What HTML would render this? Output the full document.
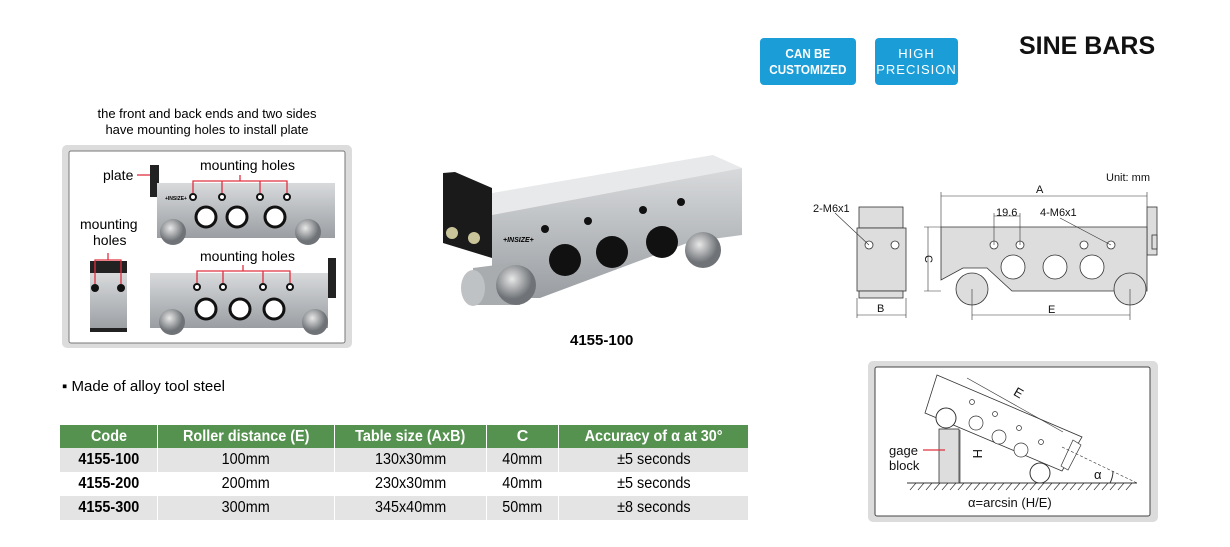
<!DOCTYPE html>
<html><head><meta charset="utf-8"><style>
body{margin:0;width:1230px;height:547px;background:#fff;font-family:"Liberation Sans",Arial,sans-serif;position:relative;overflow:hidden}
.a{position:absolute}
.badge{position:absolute;background:#1b9ed8;color:#fff;border-radius:4px;text-align:center;font-weight:bold;font-size:13px;line-height:16px}
table{position:absolute;left:60px;top:425px;border-collapse:collapse;font-size:16px}
td,th{padding:0;text-align:center;height:24px}
th{background:#55914f;color:#fff;font-weight:bold;height:23px}
tr.g td{background:#e4e4e4}
td+td,th+th{border-left:1px solid #fff}
.n{display:inline-block;transform:scaleX(.9)}
</style></head><body>
<div class="badge" style="left:760px;top:38px;width:96px;height:47px;padding-top:8px;box-sizing:border-box"><span class="n">CAN BE<br>CUSTOMIZED</span></div>
<div class="badge" style="left:875px;top:38px;width:83px;height:47px;padding-top:8px;box-sizing:border-box;font-weight:normal;letter-spacing:1px">HIGH<br>PRECISION</div>
<div class="a" style="left:1019px;top:32px;font-size:25px;font-weight:bold;color:#111">SINE BARS</div>
<div class="a" style="left:62px;top:106px;width:290px;text-align:center;font-size:13px;line-height:16px">the front and back ends and two sides<br>have mounting holes to install plate</div>
<div class="a" style="left:62px;top:378px;font-size:15px">▪ Made of alloy tool steel</div>
<div class="a" style="left:570px;top:332px;font-size:15px;font-weight:bold">4155-100</div>

<svg class="a" style="left:0;top:0" width="1230" height="547" font-family="Liberation Sans,Arial,sans-serif">
<defs>
<linearGradient id="m" x1="0" y1="0" x2="0" y2="1"><stop offset="0" stop-color="#d8dadc"/><stop offset="1" stop-color="#9a9ea2"/></linearGradient>
<radialGradient id="r" cx=".4" cy=".35"><stop offset="0" stop-color="#e8e8e8"/><stop offset="1" stop-color="#6f7377"/></radialGradient>
</defs>
<rect x="62" y="145" width="290" height="203" rx="5" fill="#dcdcdc"/>
<rect x="69" y="151" width="276" height="192" rx="2" fill="#fff" stroke="#777"/>
<rect x="150" y="165" width="9" height="32" fill="#222"/>
<rect x="157" y="183" width="178" height="55" fill="url(#m)"/>
<rect x="150" y="273" width="178" height="55" fill="url(#m)"/>
<rect x="328" y="258" width="8" height="40" fill="#222"/>
<circle cx="173" cy="232" r="13" fill="url(#r)"/><circle cx="308" cy="232" r="13" fill="url(#r)"/>
<circle cx="172" cy="322" r="13" fill="url(#r)"/><circle cx="315" cy="322" r="13" fill="url(#r)"/>
<g fill="#fff" stroke="#111" stroke-width="3"><circle cx="206" cy="217" r="10"/><circle cx="237" cy="217" r="10"/><circle cx="275" cy="217" r="10"/>
<circle cx="206" cy="309" r="10"/><circle cx="240" cy="309" r="10"/><circle cx="274" cy="309" r="10"/></g>
<g fill="#fff" stroke="#111" stroke-width="2"><circle cx="193" cy="197" r="3"/><circle cx="222" cy="197" r="3"/><circle cx="260" cy="197" r="3"/><circle cx="287" cy="197" r="3"/>
<circle cx="197" cy="287" r="3"/><circle cx="223" cy="287" r="3"/><circle cx="263" cy="287" r="3"/><circle cx="290" cy="287" r="3"/></g>
<text x="165" y="200" font-size="5" font-weight="bold">+INSIZE+</text>
<rect x="90" y="261" width="37" height="12" fill="#222"/>
<rect x="90" y="273" width="37" height="57" fill="url(#m)"/>
<rect x="90" y="328" width="37" height="4" fill="#222"/>
<circle cx="95" cy="288" r="4" fill="#111"/><circle cx="121" cy="288" r="4" fill="#111"/>
<g stroke="#e03040" stroke-width="1.3" fill="none">
<path d="M193 193V181H287V193M222 181V193M260 181V193M240 181V175"/>
<path d="M197 283V271H290V283M223 271V283M263 271V283M243 271V265"/>
<path d="M95 284V260H121V284M108 260V253"/>
<path d="M137 175H150"/></g>
<g font-size="14"><text x="103" y="180">plate</text><text x="200" y="170">mounting holes</text><text x="200" y="261">mounting holes</text>
<text x="80" y="229">mounting</text><text x="93" y="245">holes</text></g>
<polygon points="492,193 713,155 742,168 492,215" fill="#e8e9ea"/>
<polygon points="492,215 742,168 742,235 690,242 540,298 492,298" fill="url(#m)"/>
<path d="M473,268 L520,262 L520,305 L473,305 Z" fill="#a8acaf"/>
<ellipse cx="473" cy="288" rx="12" ry="18" fill="#bfc2c4"/>
<ellipse cx="516" cy="285" rx="20" ry="20" fill="url(#r)"/>
<ellipse cx="703" cy="250" rx="18" ry="18" fill="url(#r)"/>
<polygon points="443,173 455,172 492,188 492,258 443,243" fill="#1a1a1a"/>
<circle cx="452" cy="233" r="6" fill="#c9c49a"/><circle cx="474" cy="238" r="6" fill="#c9c49a"/>
<g fill="#111"><circle cx="565" cy="260" r="16"/><circle cx="612" cy="252" r="16"/><circle cx="662" cy="242" r="16"/>
<circle cx="545" cy="229" r="4"/><circle cx="588" cy="221" r="4"/><circle cx="643" cy="210" r="4"/><circle cx="681" cy="202" r="4"/></g>
<text x="503" y="242" font-size="7" font-weight="bold" font-style="italic">+INSIZE+</text>
<g fill="#ddd" stroke="#333" stroke-width="0.8">
<rect x="859" y="207" width="44" height="21"/><rect x="857" y="228" width="49" height="63"/><rect x="859" y="291" width="44" height="7"/>
<rect x="1147" y="207" width="10" height="48"/><rect x="1152" y="235" width="5" height="14"/>
<path d="M941 227H1147V291H1012L987 268H963L941 280Z"/>
<circle cx="972" cy="289" r="16"/><circle cx="1130" cy="289" r="16"/>
</g>
<g fill="#fff" stroke="#333" stroke-width="0.8"><circle cx="1013" cy="267" r="12"/><circle cx="1055" cy="267" r="12"/><circle cx="1092" cy="267" r="12"/>
<circle cx="994" cy="245" r="4"/><circle cx="1020" cy="245" r="4"/><circle cx="1084" cy="245" r="4"/><circle cx="1111" cy="245" r="4"/>
<circle cx="869" cy="245" r="4"/><circle cx="895" cy="245" r="4"/></g>
<g stroke="#333" stroke-width="0.6" fill="none">
<path d="M941 227V192M1147 207V192M941 196H1147M928 227V291M924 227H941M924 291H941M857 298V318M906 298V318M857 315H906M972 289V320M1130 289V320M972 315H1130M994 245V213M1020 245V213M994 216H1020M1060 218L1111 245M835 213L869 245"/>
</g>
<g font-size="11" fill="#111"><text x="1106" y="181">Unit: mm</text><text x="1036" y="193">A</text><text x="877" y="312">B</text><text x="1048" y="313">E</text>
<text x="813" y="212">2-M6x1</text><text x="996" y="216">19.6</text><text x="1040" y="216">4-M6x1</text>
<text x="918" y="254" transform="rotate(90 921 258)">C</text></g>
<rect x="868" y="361" width="290" height="161" rx="5" fill="#dcdcdc"/>
<rect x="875" y="367" width="275" height="149" rx="2" fill="#fff" stroke="#444"/>
<line x1="907" y1="483" x2="1137" y2="483" stroke="#333"/>
<g stroke="#333" stroke-width="0.7"><path d="M910 490l6-7M918 490l6-7M926 490l6-7M934 490l6-7M942 490l6-7M950 490l6-7M958 490l6-7M966 490l6-7M974 490l6-7M982 490l6-7M990 490l6-7M998 490l6-7M1006 490l6-7M1014 490l6-7M1022 490l6-7M1030 490l6-7M1038 490l6-7M1046 490l6-7M1054 490l6-7M1062 490l6-7M1070 490l6-7M1078 490l6-7M1086 490l6-7M1094 490l6-7M1102 490l6-7M1110 490l6-7M1118 490l6-7M1126 490l6-7"/></g>
<rect x="939" y="429" width="20" height="54" fill="#ddd" stroke="#333" stroke-width="0.8"/>
<line x1="960" y1="430" x2="960" y2="483" stroke="#333" stroke-width="0.7"/>
<polygon points="937,375 1082,437 1062,471 925,413" fill="#fff" stroke="#333" stroke-width="0.8"/>
<polygon points="1073,440 1081,445 1068,470 1061,466" fill="#fff" stroke="#333" stroke-width="0.7"/>
<circle cx="946" cy="418" r="10" fill="#fff" stroke="#333"/><circle cx="1040" cy="473" r="10" fill="#fff" stroke="#333"/>
<g fill="#fff" stroke="#333" stroke-width="0.7"><circle cx="976" cy="423" r="7"/><circle cx="999" cy="437" r="7"/><circle cx="1021" cy="450" r="7"/>
<circle cx="972" cy="402" r="2.5"/><circle cx="995" cy="414" r="2.5"/><circle cx="1019" cy="428" r="2.5"/><circle cx="1041" cy="442" r="2.5"/></g>
<path d="M967 378L1063 432" stroke="#333" stroke-width="0.6"/>
<path d="M1062 447L1137 483" stroke="#333" stroke-width="0.6" stroke-dasharray="3,2"/>
<path d="M1110 483A26 26 0 0 0 1113 471" stroke="#333" fill="none"/>
<line x1="923" y1="450" x2="945" y2="450" stroke="#e03040" stroke-width="1.2"/>
<g font-size="13" fill="#111"><text x="889" y="455">gage</text><text x="889" y="470">block</text><text x="1094" y="479">α</text>
<text x="968" y="507">α=arcsin (H/E)</text>
<text x="964" y="452" transform="rotate(90 970 455)">H</text>
<text x="1012" y="397" transform="rotate(30 1017 397)">E</text></g>
</svg>

<table>
<tr><th style="width:97px"><span class="n">Code</span></th><th style="width:176px"><span class="n">Roller distance (E)</span></th><th style="width:151px"><span class="n">Table size (AxB)</span></th><th style="width:71px">C</th><th style="width:189px"><span class="n">Accuracy of α at 30°</span></th></tr>
<tr class="g"><td><b class="n">4155-100</b></td><td><span class="n">100mm</span></td><td><span class="n">130x30mm</span></td><td><span class="n">40mm</span></td><td><span class="n">±5 seconds</span></td></tr>
<tr><td><b class="n">4155-200</b></td><td><span class="n">200mm</span></td><td><span class="n">230x30mm</span></td><td><span class="n">40mm</span></td><td><span class="n">±5 seconds</span></td></tr>
<tr class="g"><td><b class="n">4155-300</b></td><td><span class="n">300mm</span></td><td><span class="n">345x40mm</span></td><td><span class="n">50mm</span></td><td><span class="n">±8 seconds</span></td></tr>
</table>
</body></html>
